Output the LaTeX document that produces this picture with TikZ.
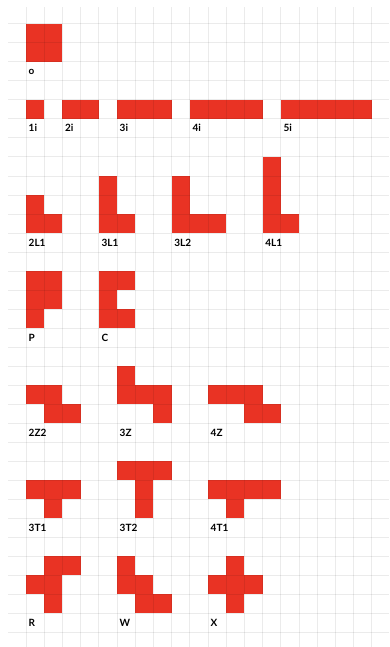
\documentclass[tikz,border=0pt]{standalone}
\usepackage{fontspec}
\setmainfont{Lato}
\definecolor{tetred}{RGB}{233,51,36}
\begin{document}
\begin{tikzpicture}[x=1pt,y=-1pt,
  gridl/.style={draw=black,opacity=0.08,line width=1pt},
  lbl/.style={anchor=base west,font=\bfseries\fontsize{10}{10}\selectfont,inner sep=0pt}]
\useasboundingbox (0,0) rectangle (389,647);
\fill[white] (0,0) rectangle (389,647);
\def\cw{18.2}\def\ch{19}
\newcommand\cells[1]{\foreach \c/\r in {#1} {\fill[tetred] ({26+\cw*\c},{24+\ch*\r}) rectangle ++(\cw,\ch);}}
\newcommand\lab[4]{\node[lbl] (#1) at ({26+\cw*#2+2.5},{24+\ch*#3+13}) {#4};}
% pieces
\cells{0/0,1/0,0/1,1/1}
\cells{0/4}
\cells{2/4,3/4}
\cells{5/4,6/4,7/4}
\cells{9/4,10/4,11/4,12/4}
\cells{14/4,15/4,16/4,17/4,18/4}
\cells{0/9,0/10,1/10}
\cells{4/8,4/9,4/10,5/10}
\cells{8/8,8/9,8/10,9/10,10/10}
\cells{13/7,13/8,13/9,13/10,14/10}
\cells{0/13,1/13,0/14,1/14,0/15}
\cells{4/13,5/13,4/14,4/15,5/15}
\cells{0/19,1/19,1/20,2/20}
\cells{5/18,5/19,6/19,7/19,7/20}
\cells{10/19,11/19,12/19,12/20,13/20}
\cells{0/24,1/24,2/24,1/25}
\cells{5/23,6/23,7/23,6/24,6/25}
\cells{10/24,11/24,12/24,13/24,11/25}
\cells{1/28,2/28,0/29,1/29,1/30}
\cells{5/28,5/29,6/29,6/30,7/30}
\cells{11/28,10/29,11/29,12/29,11/30}
% grid
\foreach \k in {0,...,19} {\draw[gridl] ({26+\cw*\k},7) -- ({26+\cw*\k},647);}
\foreach \k in {0,...,32} {\draw[gridl] (8,{24+\ch*\k}) -- (389,{24+\ch*\k});}
% labels
\lab{lo}{0}{2}{o}
\lab{l1i}{0}{5}{1i}
\lab{l2i}{2}{5}{2i}
\lab{l3i}{5}{5}{3i}
\lab{l4i}{9}{5}{4i}
\lab{l5i}{14}{5}{5i}
\lab{l2L1}{0}{11}{2L1}
\lab{l3L1}{4}{11}{3L1}
\lab{l3L2}{8}{11}{3L2}
\lab{l4L1}{13}{11}{4L1}
\lab{lP}{0}{16}{P}
\lab{lC}{4}{16}{C}
\lab{l2Z2}{0}{21}{2Z2}
\lab{l3Z}{5}{21}{3Z}
\lab{l4Z}{10}{21}{4Z}
\lab{l3T1}{0}{26}{3T1}
\lab{l3T2}{5}{26}{3T2}
\lab{l4T1}{10}{26}{4T1}
\lab{lR}{0}{31}{R}
\lab{lW}{5}{31}{W}
\lab{lX}{10}{31}{X}
\end{tikzpicture}
\end{document}
